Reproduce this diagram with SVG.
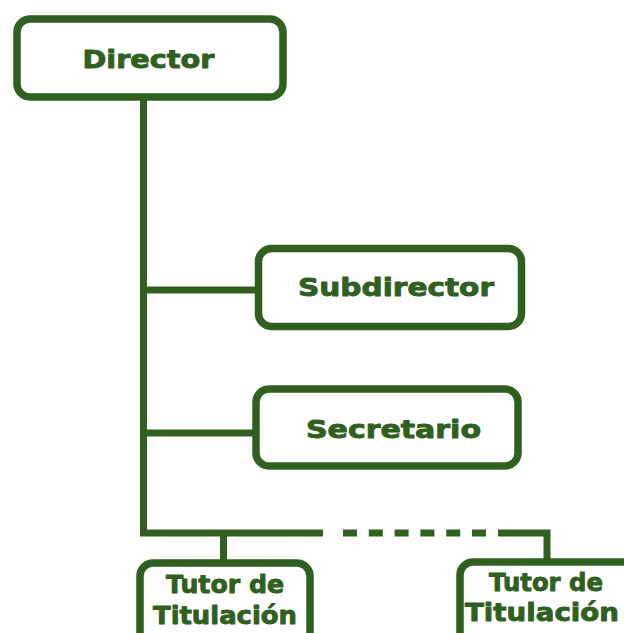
<svg xmlns="http://www.w3.org/2000/svg" width="624" height="633" viewBox="0 0 624 633">
<style>
.box{fill:#ffffff;stroke:#2f6020;stroke-width:7.5}
.lbl{font-family:"DejaVu Sans","Liberation Sans",sans-serif;font-weight:bold;fill:#2f6020;stroke:#2f6020;stroke-width:0.9;stroke-linejoin:round;text-anchor:middle;font-size:25px}
.ln{fill:none;stroke:#2f6020;stroke-width:7}
</style>
<rect width="624" height="633" fill="#ffffff"/>
<g id="connectors">
<path class="ln" d="M143.5,97 V533 M143.5,290 H258 M143.5,433 H256 M140,533 H323 M223.5,533 V563 M498,533 H547 V562"/>
<path class="ln" d="M343,533 H486" stroke-dasharray="14 11.8"/>
</g>
<g id="director">
<rect class="box" x="17" y="19" width="266" height="78" rx="13"/>
<text class="lbl" x="148.5" y="68" textLength="132" lengthAdjust="spacingAndGlyphs">Director</text>
</g>
<g id="subdirector">
<rect class="box" x="258.5" y="248.5" width="263" height="78" rx="13"/>
<text class="lbl" x="396" y="296" textLength="196" lengthAdjust="spacingAndGlyphs">Subdirector</text>
</g>
<g id="secretario">
<rect class="box" x="256" y="389" width="262" height="77" rx="13"/>
<text class="lbl" x="393.5" y="438" textLength="175" lengthAdjust="spacingAndGlyphs">Secretario</text>
</g>
<g id="tutor1">
<rect class="box" x="140" y="563" width="170" height="90" rx="13"/>
<text class="lbl" x="225" y="593" textLength="118" lengthAdjust="spacingAndGlyphs">Tutor de</text>
<text class="lbl" x="225" y="624" textLength="144" lengthAdjust="spacingAndGlyphs">Titulación</text>
</g>
<g id="tutor2">
<rect class="box" x="460" y="562" width="180" height="90" rx="13"/>
<text class="lbl" x="546" y="591" textLength="114" lengthAdjust="spacingAndGlyphs">Tutor de</text>
<text class="lbl" x="542" y="621" textLength="154" lengthAdjust="spacingAndGlyphs">Titulación</text>
</g>
</svg>
